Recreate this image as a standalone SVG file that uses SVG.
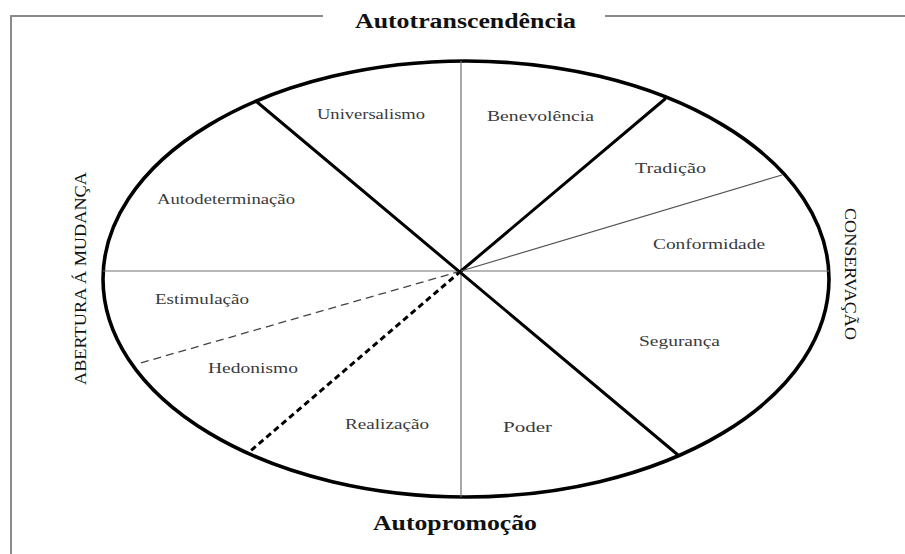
<svg xmlns="http://www.w3.org/2000/svg" width="905" height="554" viewBox="0 0 905 554">
<style>
.frame{stroke:#8a8a8a;stroke-width:2;fill:none}
.axis{stroke:#707070;stroke-width:1.2;fill:none}
.thick{stroke:#000;stroke-width:3;fill:none;stroke-linecap:round}
.thin{stroke:#555;stroke-width:1.2;fill:none}
.dash{stroke:#444;stroke-width:1.3;fill:none;stroke-dasharray:8 5}
.dashthick{stroke:#000;stroke-width:3;fill:none;stroke-dasharray:6 4}
.lbl{font-family:"Liberation Serif","Times New Roman",serif;font-size:15.5px;fill:#3a3a3a}
.ttl{font-family:"Liberation Serif","Times New Roman",serif;font-size:20px;font-weight:bold;fill:#111}
.side{font-family:"Liberation Serif","Times New Roman",serif;font-size:17px;fill:#111}
</style>
<rect width="905" height="554" fill="#fff"/>
<g id="frame">
<polyline class="frame" points="323,16 11,16 11,554"/>
<line class="frame" x1="605" y1="16" x2="905" y2="16"/>
</g>
<g id="circle">
<ellipse cx="466" cy="279" rx="363" ry="218" fill="none" stroke="#000" stroke-width="3.6"/>
</g>
<g id="connectors">
<line class="axis" x1="461" y1="61" x2="461" y2="497"/>
<line class="axis" x1="103" y1="271" x2="829" y2="271"/>
<line class="thick" x1="257" y1="102" x2="678" y2="455"/>
<line class="thick" x1="461" y1="271" x2="665" y2="99"/>
<line class="thin" x1="461" y1="271" x2="782" y2="175"/>
<line class="dash" x1="461" y1="271" x2="137" y2="364"/>
<line class="dashthick" x1="461" y1="271" x2="248" y2="453"/>
</g>
<g id="title-top"><text class="ttl" x="355" y="28" textLength="221" lengthAdjust="spacingAndGlyphs">Autotranscendência</text></g>
<g id="title-bottom"><text class="ttl" x="373" y="530" textLength="164" lengthAdjust="spacingAndGlyphs">Autopromoção</text></g>
<g id="title-left"><text class="side" transform="translate(86,385) rotate(-90)" x="0" y="0" textLength="213" lengthAdjust="spacingAndGlyphs">ABERTURA Á MUDANÇA</text></g>
<g id="title-right"><text class="side" transform="translate(845,208) rotate(90)" x="0" y="0" textLength="132" lengthAdjust="spacingAndGlyphs">CONSERVAÇÃO</text></g>
<g id="universalismo"><text class="lbl" x="317" y="119" textLength="108" lengthAdjust="spacingAndGlyphs">Universalismo</text></g>
<g id="benevolencia"><text class="lbl" x="487" y="121" textLength="107" lengthAdjust="spacingAndGlyphs">Benevolência</text></g>
<g id="tradicao"><text class="lbl" x="635" y="173" textLength="71" lengthAdjust="spacingAndGlyphs">Tradição</text></g>
<g id="autodeterminacao"><text class="lbl" x="157" y="204" textLength="138" lengthAdjust="spacingAndGlyphs">Autodeterminação</text></g>
<g id="conformidade"><text class="lbl" x="653" y="249" textLength="112" lengthAdjust="spacingAndGlyphs">Conformidade</text></g>
<g id="estimulacao"><text class="lbl" x="155" y="304" textLength="94" lengthAdjust="spacingAndGlyphs">Estimulação</text></g>
<g id="seguranca"><text class="lbl" x="639" y="346" textLength="81" lengthAdjust="spacingAndGlyphs">Segurança</text></g>
<g id="hedonismo"><text class="lbl" x="208" y="373" textLength="90" lengthAdjust="spacingAndGlyphs">Hedonismo</text></g>
<g id="realizacao"><text class="lbl" x="345" y="429" textLength="84" lengthAdjust="spacingAndGlyphs">Realização</text></g>
<g id="poder"><text class="lbl" x="503" y="432" textLength="49" lengthAdjust="spacingAndGlyphs">Poder</text></g>
</svg>
